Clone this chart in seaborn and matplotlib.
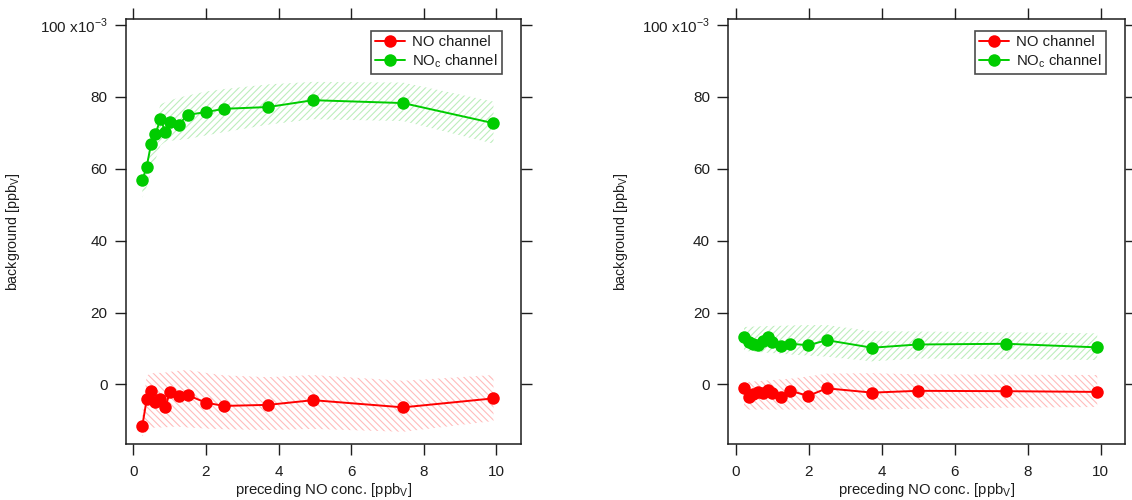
import matplotlib
matplotlib.use("Agg")
import matplotlib.pyplot as plt
from matplotlib.lines import Line2D
import pandas as pd
import seaborn as sns

# Preceding NO concentration [ppbV] for each background measurement
x_left = [0.25, 0.37, 0.49, 0.61, 0.75, 0.88, 1.01, 1.25, 1.50, 2.00, 2.50, 3.72, 4.95, 7.43, 9.92]
x_right = [0.23, 0.37, 0.48, 0.62, 0.76, 0.88, 1.01, 1.25, 1.50, 1.99, 2.50, 3.74, 4.99, 7.42, 9.91]

# Background [1e-3 ppbV], left panel
no_left = [-11.5, -4.2, -1.8, -4.8, -4.2, -6.4, -2.2, -3.3, -3.0, -5.1, -6.0, -5.7, -4.4, -6.4, -3.9]
noc_left = [56.8, 60.6, 66.9, 69.6, 74.0, 70.2, 73.0, 72.3, 75.0, 75.8, 76.7, 77.2, 79.1, 78.3, 72.7]

# Background [1e-3 ppbV], right panel
no_right = [-1.1, -3.4, -2.8, -2.1, -2.3, -1.6, -2.5, -3.6, -1.8, -3.2, -1.1, -2.3, -1.8, -1.9, -2.1]
noc_right = [13.3, 11.9, 11.2, 10.9, 12.1, 13.1, 11.7, 10.8, 11.3, 10.9, 12.3, 10.2, 11.1, 11.3, 10.3]

# Uncertainty envelopes (lower / upper) [1e-3 ppbV]
noc_left_lo = [52.0, 55.0, 59.0, 62.5, 66.5, 67.5, 67.8, 68.0, 68.3, 69.3, 70.2, 72.3, 73.8, 73.3, 67.0]
noc_left_hi = [57.0, 62.0, 67.5, 72.5, 78.0, 78.5, 79.0, 79.8, 80.4, 81.5, 82.2, 83.5, 84.2, 84.0, 78.7]
no_left_lo = [-14.5, -13.0, -12.2, -12.0, -12.0, -12.0, -11.8, -11.8, -12.0, -12.3, -12.5, -12.7, -12.4, -13.2, -10.2]
no_left_hi = [-8.0, 2.5, 3.0, 3.2, 3.2, 3.3, 3.5, 3.8, 4.0, 3.2, 2.5, 2.0, 2.6, 1.0, 2.6]
noc_right_lo = [9.3, 9.2, 9.1, 9.0, 8.9, 8.8, 8.7, 8.5, 8.3, 8.0, 7.7, 6.4, 7.2, 7.0, 6.8]
noc_right_hi = [16.0, 16.0, 16.1, 16.1, 16.2, 16.2, 16.3, 16.3, 16.4, 16.5, 16.5, 14.8, 14.7, 14.5, 14.2]
no_right_lo = [-7.0, -7.0, -7.0, -7.0, -7.0, -7.0, -7.0, -7.0, -7.0, -7.0, -7.0, -7.0, -6.8, -6.5, -6.3]
no_right_hi = [0.5, 0.7, 0.8, 0.9, 1.0, 1.1, 1.2, 1.4, 1.6, 2.2, 3.0, 3.1, 2.8, 2.7, 2.6]

channels = ["NO channel", r"NO$_\mathregular{c}$ channel"]
y_ticks = [0, 20, 40, 60, 80, 100]
y_ticklabels = ["0", "20", "40", "60", "80", r"100 x10$^\mathregular{-3}$"]
x_ticks = [0, 2, 4, 6, 8, 10]

RED = "#ff0000"
GREEN = "#00cc00"
RED_HATCH = "#ffbcbc"
GREEN_HATCH = "#bdeebd"
INK = "#1e1e1e"

sns.set_theme(style="ticks")
plt.rcParams["font.family"] = ["Liberation Sans", "DejaVu Sans"]
plt.rcParams["hatch.linewidth"] = 0.8

fig = plt.figure(figsize=(11.32, 5.0), dpi=100)
ax_l = fig.add_axes([0.1113, 0.112, 0.3487, 0.850])
ax_r = fig.add_axes([0.6434, 0.112, 0.3504, 0.850])

panels = [
    (ax_l, x_left, no_left, noc_left, no_left_lo, no_left_hi, noc_left_lo, noc_left_hi, -0.263),
    (ax_r, x_right, no_right, noc_right, no_right_lo, no_right_hi, noc_right_lo, noc_right_hi, -0.248),
]

for ax, xs, no, noc, no_lo, no_hi, noc_lo, noc_hi, ylab_x in panels:
    # hatched envelopes behind the data
    ax.fill_between(xs, noc_lo, noc_hi, facecolor="none", edgecolor=GREEN_HATCH,
                    hatch="/////", linewidth=0, zorder=1)
    ax.fill_between(xs, no_lo, no_hi, facecolor="none", edgecolor=RED_HATCH,
                    hatch="\\\\\\\\\\", linewidth=0, zorder=1)

    df = pd.DataFrame({
        "x": list(xs) + list(xs),
        "bg": list(no) + list(noc),
        "channel": [channels[0]] * len(xs) + [channels[1]] * len(xs),
    })
    sns.lineplot(data=df, x="x", y="bg", hue="channel",
                 palette={channels[0]: RED, channels[1]: GREEN},
                 marker="o", markersize=9, markeredgewidth=0, linewidth=1.4,
                 errorbar=None, legend=False, ax=ax, zorder=3)

    ax.set_xlim(-0.2, 10.67)
    ax.set_ylim(-16.6, 101.7)
    ax.set_xticks(x_ticks)
    ax.set_xticklabels([str(t) for t in x_ticks])
    ax.set_yticks(y_ticks)
    ax.set_yticklabels(y_ticklabels)

    for sp in ax.spines.values():
        sp.set_visible(True)
        sp.set_color(INK)
        sp.set_linewidth(1.1)
    ax.tick_params(axis="both", direction="out", length=7.7, width=1.0, color=INK,
                   labelsize=11, labelcolor=INK, top=True, right=True,
                   labeltop=False, labelright=False)
    ax.tick_params(axis="x", pad=7.5)
    ax.tick_params(axis="y", pad=5.5)

    ax.set_xlabel(r"preceding NO conc. [ppb$_\mathregular{V}$]", fontsize=10.7, color=INK)
    ax.set_ylabel(r"background [ppb$_\mathregular{V}$]", fontsize=10.3, color=INK)
    ax.xaxis.set_label_coords(0.5, -0.088)
    ax.yaxis.set_label_coords(ylab_x, 0.5)

    handles = [
        Line2D([], [], color=RED, marker="o", markersize=9, markeredgewidth=0, linewidth=1.4),
        Line2D([], [], color=GREEN, marker="o", markersize=9, markeredgewidth=0, linewidth=1.4),
    ]
    leg = ax.legend(handles, channels, loc="upper right", bbox_to_anchor=(0.953, 0.972),
                    borderaxespad=0, fontsize=10.7, frameon=True, fancybox=False,
                    handlelength=2.0, handletextpad=0.5, labelspacing=0.2,
                    borderpad=0.3)
    leg.get_frame().set_edgecolor(INK)
    leg.get_frame().set_linewidth(1.2)
    for t in leg.get_texts():
        t.set_color(INK)

fig.savefig("out.png", dpi=100)
